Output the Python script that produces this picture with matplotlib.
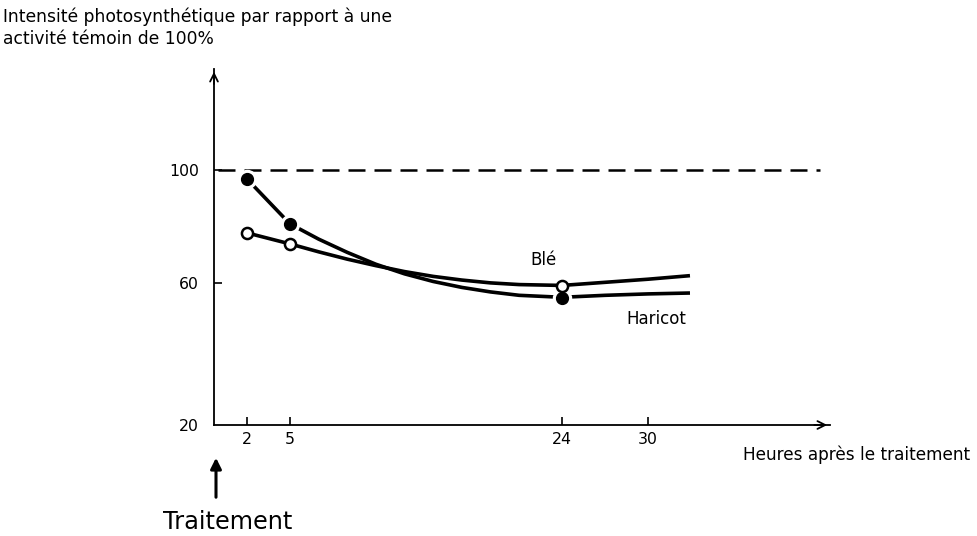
import matplotlib
matplotlib.use("Agg")
import matplotlib.pyplot as plt

plt.rcParams['font.family'] = ['DejaVu Sans']

# Measured markers
hours_pts = [2, 5, 24]
haricot_pts = [96.8, 80.9, 54.7]
ble_pts = [77.7, 73.8, 59.0]

# Curves
haricot_x = [2, 5, 7, 9, 11, 13, 15, 17, 19, 21, 24, 27, 30, 32.8]
haricot_y = [96.8, 80.9, 75.5, 70.8, 66.6, 63.2, 60.5, 58.4, 56.8, 55.6, 54.9, 55.6, 56.1, 56.4]
ble_x = [2, 5, 7, 9, 11, 13, 15, 17, 19, 21, 24, 27, 30, 32.8]
ble_y = [77.7, 73.8, 71.0, 68.4, 66.1, 64.0, 62.3, 61.0, 60.0, 59.4, 59.1, 60.2, 61.3, 62.5]

reference_level = 100
x_ticks = [2, 5, 24, 30]
y_ticks = [60, 100]
y_axis_bottom_label = "20"

fig = plt.figure(figsize=(9.78, 5.36), dpi=100)
ax = fig.add_axes([214/978, 111/536, (830-214)/978, (467-111)/536])
xmin, xmax = -0.3, 42.7
ymin, ymax = 9.7, 135.7
ax.set_xlim(xmin, xmax)
ax.set_ylim(ymin, ymax)

for s in ['top', 'right']:
    ax.spines[s].set_visible(False)
for s in ['left', 'bottom']:
    ax.spines[s].set_linewidth(1.3)

# axis arrows
ax.annotate('', xy=(1.0, 0), xytext=(0.97, 0), xycoords='axes fraction',
            arrowprops=dict(arrowstyle='->', lw=1.3, color='black', mutation_scale=14),
            annotation_clip=False)
ax.annotate('', xy=(0, 1.0), xytext=(0, 0.95), xycoords='axes fraction',
            arrowprops=dict(arrowstyle='->', lw=1.3, color='black', mutation_scale=14),
            annotation_clip=False)

# reference dashed line
ax.plot([0.0, 42.0], [reference_level, reference_level], color='black', lw=1.8,
        dashes=(6.8, 3.6), solid_capstyle='butt')

# curves
ax.plot(haricot_x, haricot_y, color='black', lw=2.6, zorder=3)
ax.plot(ble_x, ble_y, color='black', lw=2.6, zorder=3)

# markers with white halo for filled ones
ax.plot(hours_pts, haricot_pts, 'o', ms=13, color='white', zorder=4)
ax.plot(hours_pts, haricot_pts, 'o', ms=8.5, color='black', zorder=5)
ax.plot(hours_pts, ble_pts, 'o', ms=8, mfc='white', mec='black', mew=1.8, zorder=6)

ax.set_xticks(x_ticks)
ax.set_xticklabels([str(t) for t in x_ticks])
ax.set_yticks([ymin] + y_ticks)
ax.set_yticklabels([y_axis_bottom_label] + [str(t) for t in y_ticks])
ax.tick_params(axis='x', direction='in', length=6, width=1.2, pad=5, labelsize=11.3)
ax.tick_params(axis='y', direction='in', length=6, width=1.2, pad=11, labelsize=11.3)
ax.yaxis.get_major_ticks()[0].tick1line.set_visible(False)

# labels
fig.text(3/978, 1 - 7/536, "Intensité photosynthétique par rapport à une\nactivité témoin de 100%",
         ha='left', va='top', fontsize=12.3, linespacing=1.3)
fig.text(743/978, 1 - 455/536, "Heures après le traitement", ha='left', va='center', fontsize=12.2)
ax.text(22.7, 68.1, "Blé", ha='center', va='center', fontsize=12)
ax.text(30.6, 47.3, "Haricot", ha='center', va='center', fontsize=12)

# Traitement arrow
fig.patches.append(matplotlib.patches.FancyArrowPatch(
    (216/978, 1 - 500/536), (216/978, 1 - 455/536), transform=fig.transFigure,
    arrowstyle='-|>', mutation_scale=16, lw=2.2, color='black'))
fig.text(228/978, 1 - 522/536, "Traitement", ha='center', va='center', fontsize=17.3)

fig.savefig("out.png", dpi=100)
